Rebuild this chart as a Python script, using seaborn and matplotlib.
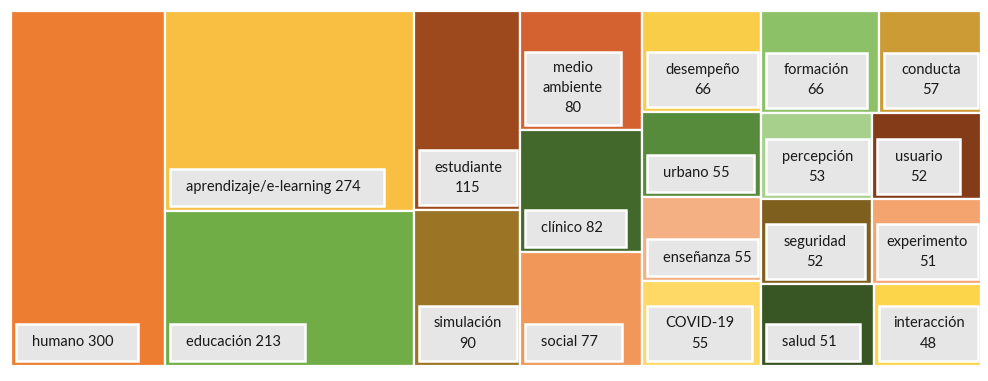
import matplotlib
matplotlib.use("Agg")
import matplotlib.pyplot as plt
from matplotlib.patches import Rectangle
import seaborn as sns
import pandas as pd

# ---------------- data ----------------
categories = ["humano", "aprendizaje/e-learning", "educación", "estudiante", "simulación",
              "medio\nambiente", "clínico", "social", "desempeño", "urbano", "enseñanza",
              "COVID-19", "formación", "conducta", "percepción", "usuario", "seguridad",
              "experimento", "salud", "interacción"]
values = [300, 274, 213, 115, 90, 80, 82, 77, 66, 55, 55, 55, 66, 57, 53, 52, 52, 51, 51, 48]
# strip (group) in which each tile is placed by the treemap layout
strip = [0, 1, 1, 2, 2, 3, 3, 3, 4, 4, 4, 4, 5, 5, 6, 6, 7, 7, 8, 8]
# whether the value is written on its own line in the label
value_newline = [False, False, False, True, True, True, False, False, True, False, False,
                 True, True, True, True, True, True, True, False, True]
colors = ["#ED7D31", "#F8BF42", "#70AD47", "#9E481E", "#9B7425", "#D46130", "#43682B",
          "#F1975A", "#FACD48", "#558B3B", "#F4B083", "#FFD966", "#8CC168", "#CC9B36",
          "#A8D08D", "#843C18", "#7F5F1D", "#F4A46F", "#375623", "#FDD54B"]

df = pd.DataFrame({"cat": categories, "val": values, "strip": strip,
                   "nl": value_newline, "color": colors})

# ---------------- style ----------------
sns.set_theme(style="white")
plt.rcParams["font.family"] = ["Lato", "DejaVu Sans"]

W, H = 988, 381
fig = plt.figure(figsize=(W / 100, H / 100), dpi=100)
ax = fig.add_axes([0, 0, 1, 1])
ax.set_xlim(0, W)
ax.set_ylim(H, 0)
ax.axis("off")


def worst_ratio(sizes):
    return max(max(a / b, b / a) for a, b in sizes)


# ---------------- strip treemap layout ----------------
x, y, w, h = 11.0, 11.0, 970.0, 355.0
remaining = df["val"].sum()
rects = {}
for sid, g in df.groupby("strip", sort=False):
    s = g["val"].sum()
    vals = g["val"].tolist()
    cw = w * s / remaining          # as a column
    col_sizes = [(cw, h * v / s) for v in vals]
    rh = h * s / remaining          # as a row
    row_sizes = [(w * v / s, rh) for v in vals]
    if worst_ratio(col_sizes) <= worst_ratio(row_sizes):
        yy = y
        for idx, (iw, ih) in zip(g.index, col_sizes):
            rects[idx] = (x, yy, iw, ih)
            yy += ih
        x += cw
        w -= cw
    else:
        xx = x
        for idx, (iw, ih) in zip(g.index, row_sizes):
            rects[idx] = (xx, y, iw, ih)
            xx += iw
        y += rh
        h -= rh
    remaining -= s

renderer = fig.canvas.get_renderer()
fs = 10.5
for idx, row in df.iterrows():
    rx, ry, rw, rh = rects[idx]
    ax.add_patch(Rectangle((rx, ry), rw, rh, facecolor=row["color"],
                           edgecolor="white", linewidth=1.6, zorder=1))
    label = f"{row['cat']}\n{row['val']}" if row["nl"] else f"{row['cat']} {row['val']}"
    nlines = label.count("\n") + 1
    bh = 19 + 18 * nlines
    bx = rx + 5
    by = ry + rh - 5 - bh
    if nlines == 1:
        t = ax.text(bx + 16, by + bh / 2, label, ha="left", va="center",
                    fontsize=fs, color="#1a1a1a", zorder=4)
        tw = t.get_window_extent(renderer).width
        bw = min(tw + 40, rw - 8)
    else:
        t = ax.text(0, 0, label, ha="center", va="center", multialignment="center",
                    fontsize=fs, color="#1a1a1a", linespacing=1.55, zorder=4)
        tw = t.get_window_extent(renderer).width
        bw = min(tw + 36, rw - 8)
        t.set_position((bx + bw / 2, by + bh / 2))
    ax.add_patch(Rectangle((bx, by), bw, bh, facecolor="#E7E6E6",
                           edgecolor="white", linewidth=1.8, zorder=3))

fig.savefig("out.png", dpi=100, facecolor="white")
